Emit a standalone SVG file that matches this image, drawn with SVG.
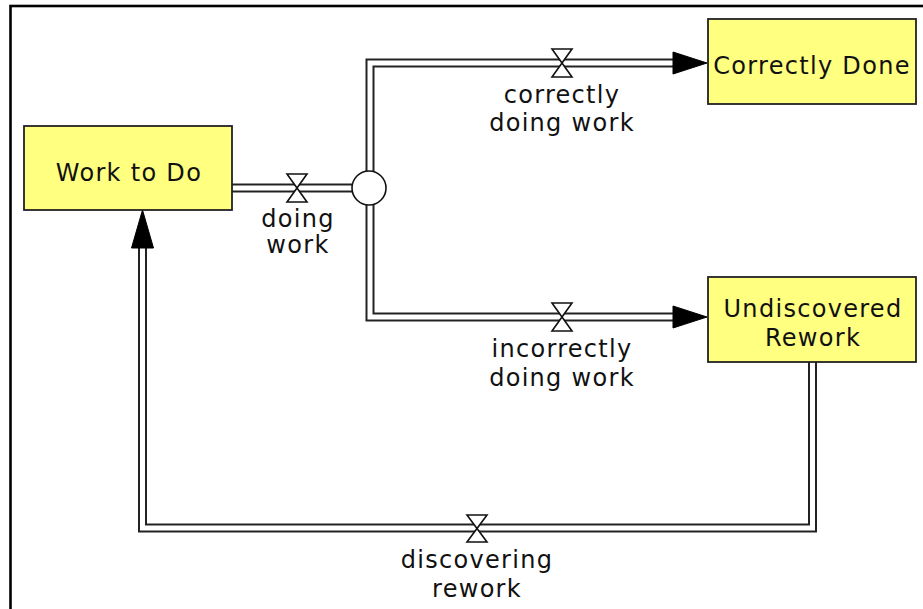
<svg xmlns="http://www.w3.org/2000/svg" width="923" height="609" viewBox="0 0 923 609">
  <defs>
    <style>
      .stock rect { fill: #ffff80; stroke: #222; stroke-width: 1.8; }
      .txt { font-family: "DejaVu Sans", Verdana, sans-serif; font-size: 24px; letter-spacing: 1.3px; fill: #111; text-anchor: middle; }
      .pipe-out { fill: none; stroke: #222; stroke-width: 9; stroke-linejoin: miter; }
      .pipe-in { fill: none; stroke: #fff; stroke-width: 5; stroke-linejoin: miter; }
      .valve { fill: #fff; stroke: #111; stroke-width: 1.6; stroke-linejoin: miter; }
      .head { fill: #000; stroke: #000; stroke-width: 1; }
    </style>
  </defs>

  <rect width="923" height="609" fill="#fff"/>
  <!-- outer frame -->
  <rect x="10.5" y="6" width="940" height="640" fill="none" stroke="#000" stroke-width="2.6"/>

  <!-- flows (pipes, valves, arrowheads) -->
  <g id="connectors">
    <!-- doing work -->
    <path class="pipe-out" d="M232,188 H360"/>
    <path class="pipe-in" d="M231,188 H360"/>
    <!-- split: correctly / incorrectly doing work -->
    <path class="pipe-out" d="M674,63 H370 V317 H674"/>
    <path class="pipe-in" d="M675,63 H370 V317 H675"/>
    <!-- discovering rework -->
    <path class="pipe-out" d="M812.5,362 V528 H142.5 V246"/>
    <path class="pipe-in" d="M812.5,361 V528 H142.5 V246"/>

    <!-- arrowheads -->
    <polygon class="head" points="707,63 673,52 673,74"/>
    <polygon class="head" points="707,317 673,306 673,328"/>
    <polygon class="head" points="142.5,210 131.5,248 153.5,248"/>

    <!-- cloud/split circle -->
    <circle cx="369" cy="188" r="17" fill="#fff" stroke="#111" stroke-width="1.6"/>

    <!-- valves -->
    <polygon class="valve" points="287,174 307,174 287,202 307,202"/>
    <polygon class="valve" points="552,49 572,49 552,77 572,77"/>
    <polygon class="valve" points="552,303 572,303 552,331 572,331"/>
    <polygon class="valve" points="467,515 487,515 467,542 487,542"/>
  </g>

  <!-- flow labels -->
  <g id="label-doing-work">
    <text class="txt" x="298" y="227">doing</text>
    <text class="txt" x="298" y="253">work</text>
  </g>
  <g id="label-correctly">
    <text class="txt" x="562" y="103">correctly</text>
    <text class="txt" x="562" y="131">doing work</text>
  </g>
  <g id="label-incorrectly">
    <text class="txt" x="562" y="357">incorrectly</text>
    <text class="txt" x="562" y="386">doing work</text>
  </g>
  <g id="label-discovering">
    <text class="txt" x="477" y="568">discovering</text>
    <text class="txt" x="477" y="597">rework</text>
  </g>

  <!-- stocks -->
  <g id="work-to-do" class="stock">
    <rect x="24" y="126" width="208" height="84"/>
    <text class="txt" x="129" y="181">Work to Do</text>
  </g>
  <g id="correctly-done" class="stock">
    <rect x="708" y="19" width="208" height="85"/>
    <text class="txt" x="812" y="74">Correctly Done</text>
  </g>
  <g id="undiscovered-rework" class="stock">
    <rect x="708" y="277" width="208" height="85"/>
    <text class="txt" x="813" y="317">Undiscovered</text>
    <text class="txt" x="813" y="346">Rework</text>
  </g>
</svg>
